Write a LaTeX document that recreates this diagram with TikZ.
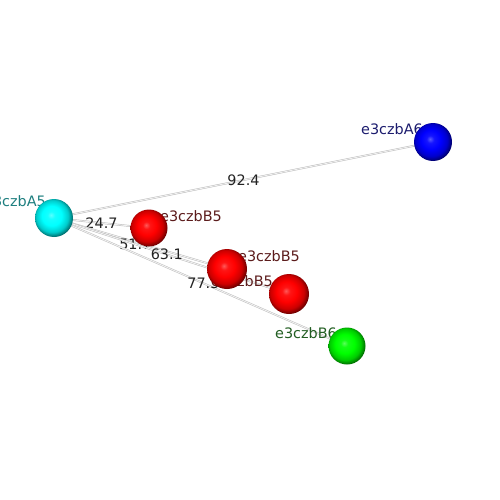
\documentclass[tikz,border=0pt]{standalone}
\usepackage{fontspec}
\setmainfont{DejaVu Sans}
\usetikzlibrary{positioning,backgrounds}
\definecolor{tagA}{HTML}{1F7F80}
\definecolor{tagB}{HTML}{5C1C1C}
\definecolor{tagAsix}{HTML}{1C1C6E}
\definecolor{tagBsix}{HTML}{225E22}
\definecolor{numcol}{HTML}{222222}
\makeatletter
\pgfdeclareradialshading[tikz@ball]{atomball}{\pgfqpoint{-4bp}{4bp}}{%
  color(0bp)=(tikz@ball!65!white);
  color(5bp)=(tikz@ball!92!white);
  color(13bp)=(tikz@ball);
  color(21bp)=(tikz@ball!80!black);
  color(27bp)=(tikz@ball!40!black);
  color(50bp)=(black)}
\makeatother

\begin{document}
\begin{tikzpicture}[x=1pt,y=-1pt,
      atom/.style={circle,inner sep=0pt,ball color=#1,shading=atomball},
      edge/.style={draw=gray!55,line width=0.45pt,double=gray!10,double distance=0.9pt},
      dist/.style={font=\fontsize{14.4}{17}\selectfont,text=numcol,inner sep=0pt},
      tag/.style={font=\fontsize{14.4}{17}\selectfont,inner sep=0pt}]

    \useasboundingbox (0,0) rectangle (500,500);

    \node[atom=cyan,minimum size=38pt] (a5) at (54,218) {};
    \node[atom=red,minimum size=37pt] (b5a) at (149,228) {};
    \node[atom=red,minimum size=40pt] (b5b) at (227,269) {};
    \node[atom=red,minimum size=40pt] (b5c) at (289,294) {};
    \node[atom=green,minimum size=37pt] (b6) at (347,346) {};
    \node[atom=blue,minimum size=38pt] (a6) at (433,142) {};

    \begin{scope}[on background layer]
      \draw[edge] (a5.center) -- node[dist,pos=0.50] {92.4} (a6.center);
      \draw[edge] (a5.center) -- node[dist,pos=0.50] {24.7} (b5a.center);
      \draw[edge] (a5.center) -- node[dist,pos=0.47,yshift=-2pt] {51.7} (b5b.center);
      \draw[edge] (a5.center) -- node[dist,pos=0.48] {63.1} (b5c.center);
      \draw[edge] (a5.center) -- node[dist,pos=0.51] {77.5} (b6.center);

      \node[tag,text=tagA] (ta5) at (15,201) {e3czbA5};
      \node[tag,text=tagB] (tb5a) at (191,216) {e3czbB5};
      \node[tag,text=tagB] (tb5b) at (269,256) {e3czbB5};
      \node[tag,text=tagB] (tb5c) at (242,281) {e3czbB5};
      \node[tag,text=tagBsix] (tb6) at (306,333) {e3czbB6};
      \node[tag,text=tagAsix] (ta6) at (392,129) {e3czbA6};
    \end{scope}
  \end{tikzpicture}
\end{document}
